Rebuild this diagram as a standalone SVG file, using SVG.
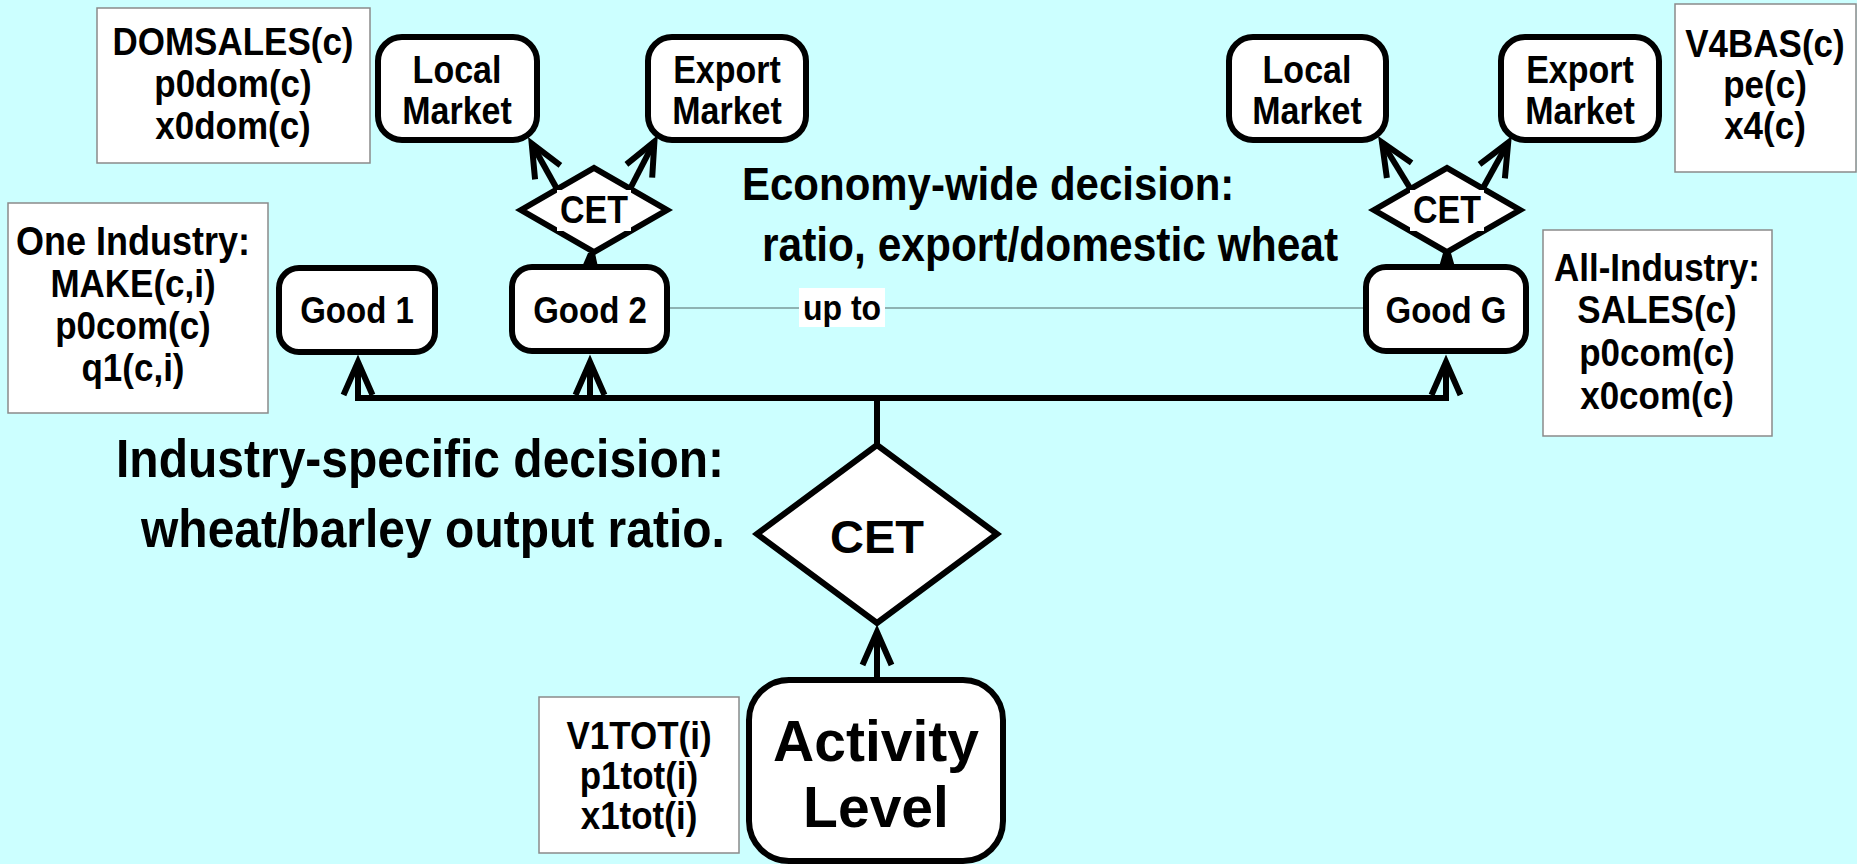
<svg xmlns="http://www.w3.org/2000/svg" width="1857" height="864" viewBox="0 0 1857 864">
  <defs>
    <style>
      text { font-family: "Liberation Sans", Arial, sans-serif; font-weight: bold; fill: #000; }
      .c { text-anchor: middle; }
      /* slightly tall lettering, scaled about the baseline */
      .tall { transform-box: fill-box; transform-origin: 50% 81%; transform: scaleY(1.12); }
      .node { fill: #fff; stroke: #000; stroke-width: 6; }
      .info { fill: #fff; stroke: #8a8a8a; stroke-width: 1.5; }
      .conn { fill: none; stroke: #000; stroke-width: 6; }
      .arrow { marker-end: url(#open); }
      .thin { fill: none; stroke: #7a9a9a; stroke-width: 1.5; }
      .t35 { font-size: 35px; }
      .t34 { font-size: 34px; }
      .t33 { font-size: 33px; }
    </style>
    <marker id="open" markerUnits="userSpaceOnUse" orient="auto" viewBox="-40 -30 50 60" markerWidth="50" markerHeight="60" refX="0" refY="0" overflow="visible">
      <path d="M-33,-14.5 L0,0 L-33,14.5" fill="none" stroke="#000" stroke-width="6"/>
    </marker>
  </defs>

  <rect x="0" y="0" width="1857" height="864" fill="#ccffff"/>

  <!-- connectors -->
  <g id="connectors">
    <path class="thin" d="M668,308 H1365"/>
    <rect x="799" y="288" width="86" height="39" fill="#fff"/>
    <text x="842" y="320" class="c tall" font-size="32">up to</text>

    <path class="conn" d="M358,398 H1446" stroke-linecap="square"/>
    <path class="conn arrow" d="M358,398 V362"/>
    <path class="conn arrow" d="M590,398 V362"/>
    <path class="conn arrow" d="M1446,398 V362"/>
    <path class="conn" d="M877,398 V448"/>
    <path class="conn arrow" d="M877,680 V632"/>

    <path class="conn arrow" d="M557,189 L531.7,143.5"/>
    <path class="conn arrow" d="M630,189 L654.4,141.6"/>
    <path class="conn arrow" d="M1410,188 L1382,142.3"/>
    <path class="conn arrow" d="M1483,188 L1508.2,142.5"/>

    <polygon points="588,253 595,253 598,267 582,267" fill="#000"/>
    <polygon points="1443,253 1451,253 1455,267 1439,267" fill="#000"/>
  </g>

  <!-- free-standing notes -->
  <g id="notes">
    <text class="tall" x="742" y="200" font-size="42">Economy-wide decision:</text>
    <text class="tall" x="762" y="261" font-size="42.5">ratio, export/domestic wheat</text>
    <text class="tall" x="116" y="477" font-size="48">Industry-specific decision:</text>
    <text class="tall" x="141" y="547" font-size="48">wheat/barley output ratio.</text>
  </g>

  <!-- data boxes -->
  <g id="domsales">
    <rect class="info" x="97" y="8" width="273" height="155"/>
    <text class="c t35 tall" x="233" y="55">DOMSALES(c)</text>
    <text class="c t35 tall" x="233" y="97">p0dom(c)</text>
    <text class="c t35 tall" x="233" y="139">x0dom(c)</text>
  </g>
  <g id="one-industry">
    <rect class="info" x="8" y="203" width="260" height="210"/>
    <text class="c tall" x="133" y="255" font-size="36">One Industry:</text>
    <text class="c t35 tall" x="133" y="297">MAKE(c,i)</text>
    <text class="c t35 tall" x="133" y="339">p0com(c)</text>
    <text class="c t35 tall" x="133" y="381">q1(c,i)</text>
  </g>
  <g id="v4bas">
    <rect class="info" x="1675" y="4" width="181" height="168"/>
    <text class="c t35 tall" x="1765" y="57">V4BAS(c)</text>
    <text class="c t35 tall" x="1765" y="98">pe(c)</text>
    <text class="c t35 tall" x="1765" y="139">x4(c)</text>
  </g>
  <g id="all-industry">
    <rect class="info" x="1543" y="230" width="229" height="206"/>
    <text class="c t35 tall" x="1657" y="281">All-Industry:</text>
    <text class="c t35 tall" x="1657" y="323">SALES(c)</text>
    <text class="c t35 tall" x="1657" y="366">p0com(c)</text>
    <text class="c t35 tall" x="1657" y="409">x0com(c)</text>
  </g>
  <g id="v1tot">
    <rect class="info" x="539" y="697" width="200" height="156"/>
    <text class="c t35 tall" x="639" y="749">V1TOT(i)</text>
    <text class="c t35 tall" x="639" y="789">p1tot(i)</text>
    <text class="c t35 tall" x="639" y="829">x1tot(i)</text>
  </g>

  <!-- market nodes -->
  <g id="local-market-2">
    <rect class="node" x="378" y="37" width="159" height="103" rx="24"/>
    <text class="c t34 tall" x="457" y="83">Local</text>
    <text class="c t34 tall" x="457" y="124">Market</text>
  </g>
  <g id="export-market-2">
    <rect class="node" x="648" y="37" width="158" height="103" rx="24"/>
    <text class="c t34 tall" x="727" y="83">Export</text>
    <text class="c t34 tall" x="727" y="124">Market</text>
  </g>
  <g id="local-market-g">
    <rect class="node" x="1229" y="37" width="157" height="103" rx="24"/>
    <text class="c t34 tall" x="1307" y="83">Local</text>
    <text class="c t34 tall" x="1307" y="124">Market</text>
  </g>
  <g id="export-market-g">
    <rect class="node" x="1501" y="37" width="158" height="103" rx="24"/>
    <text class="c t34 tall" x="1580" y="83">Export</text>
    <text class="c t34 tall" x="1580" y="124">Market</text>
  </g>

  <!-- CET nests for goods -->
  <g id="cet-2">
    <polygon class="node" points="521,210 594,168 667,210 594,252"/>
    <rect x="557" y="190" width="74" height="41" fill="#fff"/>
    <text class="c tall" x="594" y="223" font-size="34">CET</text>
  </g>
  <g id="cet-g">
    <polygon class="node" points="1374,210 1447,168 1520,210 1447,252"/>
    <rect x="1410" y="190" width="74" height="41" fill="#fff"/>
    <text class="c tall" x="1447" y="223" font-size="34">CET</text>
  </g>

  <!-- goods -->
  <g id="good-1">
    <rect class="node" x="279" y="268" width="156" height="84" rx="20"/>
    <text class="c t33 tall" x="357" y="323">Good 1</text>
  </g>
  <g id="good-2">
    <rect class="node" x="512" y="267" width="155" height="84" rx="20"/>
    <text class="c t33 tall" x="590" y="323">Good 2</text>
  </g>
  <g id="good-g">
    <rect class="node" x="1366" y="267" width="160" height="84" rx="20"/>
    <text class="c t33 tall" x="1446" y="323">Good G</text>
  </g>

  <!-- industry output CET -->
  <g id="cet-main">
    <polygon class="node" points="757,534 877,445 997,534 877,623"/>
    <text class="c" x="877" y="553" font-size="47">CET</text>
  </g>

  <g id="activity-level">
    <rect class="node" x="749" y="680" width="254" height="181" rx="40"/>
    <text class="c" x="876" y="761" font-size="57">Activity</text>
    <text class="c" x="876" y="827" font-size="57">Level</text>
  </g>
</svg>
